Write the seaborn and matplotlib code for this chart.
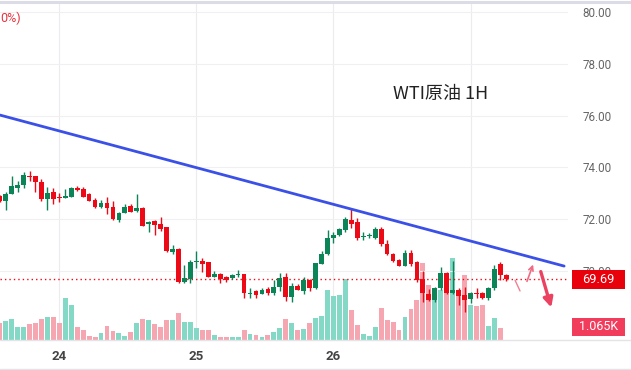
import pandas as pd
import matplotlib
matplotlib.use('Agg')
import matplotlib.pyplot as plt
from matplotlib.patches import Rectangle
import seaborn as sns

sns.set_style('white')
plt.rcParams['font.family'] = ['Roboto', 'DejaVu Sans']

# hourly candles, WTI crude
opens = [72.90, 72.71, 72.96, 73.22, 73.32, 73.67, 73.67, 73.45, 72.77, 73.04,
         72.85, 72.81, 72.87, 73.19, 73.15, 72.97, 72.75, 72.48, 72.61, 72.48,
         71.97, 72.23, 72.51, 72.32, 72.44, 71.81, 71.93, 71.81, 71.69, 70.75,
         70.85, 69.59, 69.69, 70.36, 70.40, 70.35, 69.78, 69.88, 69.78, 69.72,
         69.85, 69.88, 69.12, 69.23, 69.12, 69.31, 69.14, 69.39, 69.76, 69.01,
         69.43, 69.24, 69.65, 69.33, 70.26, 70.64, 71.26, 71.38, 71.58, 71.97,
         71.90, 71.31, 71.34, 71.29, 71.62, 71.04, 70.64, 70.42, 70.20, 70.71,
         70.34, 69.68, 69.11, 68.88, 69.33, 69.93, 69.14, 69.27, 69.07, 68.92,
         69.16, 69.14, 68.95, 69.36, 70.26, 69.85]
highs = [72.95, 73.04, 73.68, 73.47, 73.81, 73.86, 73.67, 73.55, 73.24, 73.19,
         73.02, 73.17, 73.26, 73.29, 73.26, 73.00, 72.80, 72.74, 72.85, 72.71,
         72.29, 72.57, 72.57, 72.97, 72.47, 71.94, 71.95, 72.08, 71.69, 71.00,
         70.87, 70.23, 70.42, 70.77, 70.49, 70.35, 70.00, 69.92, 69.82, 69.90,
         70.04, 69.90, 69.35, 69.25, 69.35, 69.39, 69.65, 69.91, 69.91, 69.53,
         69.48, 69.76, 69.68, 70.30, 70.79, 71.58, 71.52, 71.65, 72.09, 72.38,
         72.03, 71.51, 71.45, 71.69, 71.69, 71.19, 70.70, 70.46, 70.81, 70.81,
         70.40, 70.00, 69.31, 69.39, 70.17, 69.96, 70.39, 69.36, 69.39, 69.20,
         69.33, 69.20, 69.39, 70.23, 70.34, 69.88]
lows = [72.65, 72.36, 72.96, 73.04, 73.22, 73.47, 73.06, 72.70, 72.36, 72.59,
        72.68, 72.81, 72.85, 73.08, 72.85, 72.70, 72.45, 72.45, 72.19, 71.97,
        71.89, 72.23, 72.26, 72.29, 71.75, 71.52, 71.39, 71.54, 70.74, 70.66,
        69.52, 69.52, 69.52, 70.10, 69.95, 69.78, 69.75, 69.53, 69.59, 69.70,
        69.75, 68.97, 68.97, 68.96, 69.10, 69.07, 69.07, 69.24, 68.83, 68.79,
        69.25, 69.11, 69.24, 69.30, 70.26, 70.60, 71.07, 71.35, 71.52, 71.67,
        71.21, 71.18, 71.26, 71.25, 70.98, 70.60, 70.33, 70.18, 70.18, 70.20,
        69.59, 68.82, 68.83, 68.79, 69.27, 69.12, 69.10, 68.69, 68.43, 68.75,
        68.95, 68.90, 68.88, 69.27, 69.65, 69.62]
closes = [72.71, 72.97, 73.28, 73.32, 73.71, 73.62, 73.42, 72.77, 73.00, 72.78,
          72.81, 72.90, 73.19, 73.14, 72.85, 72.71, 72.48, 72.61, 72.44, 71.99,
          72.23, 72.48, 72.29, 72.42, 71.75, 71.90, 71.78, 71.63, 70.77, 70.85,
          69.59, 69.72, 70.36, 70.40, 70.27, 69.78, 69.88, 69.69, 69.65, 69.85,
          69.88, 69.16, 69.16, 69.07, 69.27, 69.16, 69.38, 69.74, 68.98, 69.43,
          69.27, 69.65, 69.36, 70.30, 70.64, 71.26, 71.39, 71.61, 72.00, 71.81,
          71.29, 71.36, 71.36, 71.62, 71.04, 70.64, 70.39, 70.20, 70.71, 70.28,
          69.65, 69.14, 68.88, 69.33, 69.91, 69.16, 69.27, 69.05, 68.88, 69.16,
          69.10, 68.95, 69.36, 70.08, 69.85, 69.69]
# volume in thousands
volumes = [1.48, 1.69, 1.86, 1.18, 1.18, 1.42, 1.51, 1.86, 2.04, 2.04,
           1.51, 3.70, 3.11, 1.15, 0.89, 0.38, 0.27, 0.65, 1.24, 0.83,
           0.65, 0.36, 0.74, 1.48, 1.86, 1.80, 1.42, 1.18, 1.78, 1.78,
           2.42, 1.63, 1.63, 1.09, 0.89, 0.89, 0.44, 0.29, 0.29, 0.24,
           0.29, 0.89, 0.53, 0.44, 0.27, 0.44, 0.74, 1.09, 1.86, 1.54,
           0.89, 0.98, 1.51, 1.98, 2.13, 4.44, 3.91, 4.00, 5.42, 2.66,
           1.33, 0.53, 0.36, 1.13, 2.81, 1.78, 1.63, 0.89, 2.02, 2.75,
           3.55, 6.81, 4.88, 4.44, 4.44, 4.62, 7.25, 3.91, 5.77, 3.11,
           3.05, 3.11, 1.24, 1.93, 1.09, 0.0]

day_pos = [10, 33, 56, 79]
day_labels = ['24', '25', '26', '']
price_ticks = [70, 72, 74, 76, 78, 80]
last_price = 69.69
last_volume = 1.065

# hand-drawn annotations
trend_k = [0.05, 94.7]
trend_p = [76.02, 70.19]
sketch_k = [86.46, 87.30]
sketch_p = [69.65, 69.23]
up_arrow_k = [88.31, 89.65]
up_arrow_p = [69.50, 70.35]
down_arrow_k = [90.65, 92.67]
down_arrow_p = [70.08, 68.49]

GREEN, RED = '#0b8457', '#ec0a17'
VOL_UP, VOL_DOWN = '#84d8c6', '#f6a6b1'

df = pd.DataFrame({'open': opens, 'high': highs, 'low': lows,
                   'close': closes, 'volume': volumes})
df['k'] = range(len(df))
df['dir'] = ['up' if c >= o else 'down' for o, c in zip(df['open'], df['close'])]

fig = plt.figure(figsize=(6.31, 3.70), dpi=100)
ax_vol = fig.add_axes([0, 30 / 370, 568 / 631, 338 / 370])

sns.barplot(data=df, x='k', y='volume', hue='dir', ax=ax_vol, native_scale=True,
            palette={'up': VOL_UP, 'down': VOL_DOWN}, dodge=False, width=0.82,
            saturation=1, errorbar=None, legend=False, linewidth=0)
ax_vol.set_ylim(0, 30.0)

ax = ax_vol.twinx()
col = df['dir'].map({'up': GREEN, 'down': RED})
ax.vlines(df['k'], df['low'], df['high'], colors=col, lw=1, zorder=3)
body = (df['close'] - df['open']).abs().clip(lower=0.045)
ax.bar(df['k'], body, bottom=df[['open', 'close']].min(axis=1), width=0.8,
       color=col, zorder=4, linewidth=0)

ax.plot(trend_k, trend_p, color='#3a50e6', lw=2, zorder=5)
ax.axhline(last_price, color=RED, lw=1, ls=(0, (1, 2.2)), zorder=2)

ax.plot(sketch_k, sketch_p, color='#f27f93', lw=1, zorder=5)
ax.annotate('', xy=(up_arrow_k[1], up_arrow_p[1]), xytext=(up_arrow_k[0], up_arrow_p[0]),
            arrowprops=dict(arrowstyle='->', color='#f06a84', lw=1.2, mutation_scale=8),
            zorder=5)
ax.annotate('', xy=(down_arrow_k[1], down_arrow_p[1]), xytext=(down_arrow_k[0], down_arrow_p[0]),
            arrowprops=dict(arrowstyle='-|>', color='#ec4262', lw=2.4, mutation_scale=14),
            zorder=5, annotation_clip=False)

ax.set_ylim(67.336, 80.386)
ax.set_xlim(0.05, 95.35)

# axes cosmetics
for a in (ax, ax_vol):
    for s in a.spines.values():
        s.set_visible(False)
    a.set_xlabel('')
    a.set_ylabel('')

ax.set_yticks(price_ticks)
ax.set_yticklabels([f'{t:.2f}' for t in price_ticks])
ax.tick_params(axis='y', length=0, pad=10.5, labelsize=8.4, labelcolor='#666666')
ax.yaxis.grid(True, color='#f0f0f2', lw=0.8)

ax_vol.set_xticks(day_pos)
ax_vol.set_xticklabels(day_labels, fontweight='bold')
ax_vol.tick_params(axis='x', length=0, pad=7, labelsize=9.5, labelcolor='#444444')
ax_vol.tick_params(axis='y', left=False, labelleft=False)
ax_vol.xaxis.grid(True, color='#ececee', lw=0.8)
ax_vol.yaxis.grid(False)

# price / volume tags on the right
ytr = ax.get_yaxis_transform()
ax.add_patch(Rectangle((1.007, last_price - 0.37), 0.0933, 0.73, transform=ytr,
                       fc='#e8000b', ec='none', clip_on=False, zorder=6))
ax.text(1.0535, last_price - 0.02, f'{last_price:.2f}', transform=ytr, ha='center',
        va='center', color='white', fontsize=9.3, clip_on=False, zorder=7)
vtr = ax_vol.get_yaxis_transform()
ax_vol.add_patch(Rectangle((1.007, last_volume - 0.7), 0.0933, 1.6, transform=vtr,
                           fc='#f23c5c', ec='none', clip_on=False, zorder=6))
ax_vol.text(1.0535, last_volume + 0.1, f'{last_volume:.3f}K', transform=vtr, ha='center',
            va='center', color='white', fontsize=9, clip_on=False, zorder=7)

fig.text(393 / 631, 1 - 94 / 370, 'WTI原油 1H', ha='left', va='center', fontsize=13,
         color='#222222', family=['Noto Sans CJK SC', 'DejaVu Sans'])
fig.text(0.0, 1 - 18 / 370, '0%)', ha='left', va='center', fontsize=9, color='#e5323f')

# frame lines
for yy, c, w in [(1 - 2 / 370, '#dcdce6', 2.2), (30 / 370, '#e4e4e8', 1), (1.5 / 370, '#e4e4e8', 1)]:
    fig.add_artist(plt.Line2D([0, 1], [yy, yy], transform=fig.transFigure, color=c, lw=w))

fig.savefig('out.png', dpi=100)
